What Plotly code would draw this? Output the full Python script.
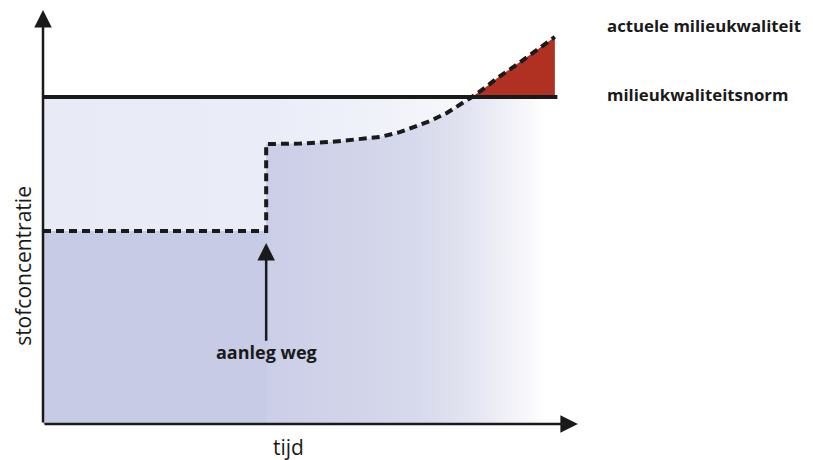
import plotly.graph_objects as go

# data (abstract units: time 0..10, concentration 0..~9.5)
time = [0.0, 4.36, 4.36, 5.02, 5.61, 6.19, 6.58, 6.97, 7.23, 7.56, 7.89, 8.20, 8.38, 8.63, 8.87, 9.22, 9.51, 10.0]
conc = [4.72, 4.72, 6.85, 6.86, 6.90, 6.96, 7.02, 7.14, 7.26, 7.41, 7.61, 7.85, 8.00, 8.22, 8.46, 8.76, 9.03, 9.47]
norm = 8.0
step_time = 4.36
norm_end = 10.05
x_axis_end = 10.45
y_axis_end = 10.13

dark = "#1a1a1a"
font_family = "Open Sans, Noto Sans, sans-serif"

fig = go.Figure()

# region below norm (light, fading to white)
fig.add_trace(go.Scatter(
    x=[0, 10], y=[norm, norm], mode="lines", line=dict(width=0),
    fill="tozeroy",
    fillgradient=dict(type="horizontal", colorscale=[
        [0.0, "#e8ebf6"], [0.44, "#eaedf8"], [0.66, "#f0f2f9"], [0.775, "#f5f6fb"],
        [0.83, "#f9f9fc"], [0.95, "#ffffff"], [1.0, "#ffffff"]]),
    hoverinfo="skip", showlegend=False))

# region under concentration curve
fig.add_trace(go.Scatter(
    x=time, y=conc, mode="lines", line=dict(width=0),
    fill="tozeroy",
    fillgradient=dict(type="horizontal", colorscale=[
        [0.0, "#c8cbe5"], [0.435, "#c8cbe5"], [0.44, "#cbcee7"], [0.6, "#d1d4e9"],
        [0.736, "#d7daec"], [0.834, "#e3e4f1"], [0.893, "#eeeef6"], [0.951, "#f8f8fb"],
        [0.98, "#ffffff"], [1.0, "#ffffff"]]),
    hoverinfo="skip", showlegend=False))

# exceedance region (red)
ex_x = [t for t, c in zip(time, conc) if c >= norm]
ex_y = [c for c in conc if c >= norm]
fig.add_trace(go.Scatter(
    x=ex_x + [ex_x[-1], ex_x[0]], y=ex_y + [norm, norm],
    mode="lines", line=dict(width=0), fill="toself", fillcolor="#b03022",
    hoverinfo="skip", showlegend=False))

# norm line
fig.add_trace(go.Scatter(
    x=[0, norm_end], y=[norm, norm], mode="lines",
    line=dict(color=dark, width=4), hoverinfo="skip", showlegend=False))

# dashed concentration line
fig.add_trace(go.Scatter(
    x=time, y=conc, mode="lines",
    line=dict(color=dark, width=4, dash="8px,5px"),
    hoverinfo="skip", showlegend=False))

annotations = [
    # x axis
    dict(x=x_axis_end, y=0, ax=0, ay=0, xref="x", yref="y", axref="x", ayref="y",
         showarrow=True, arrowhead=2, arrowsize=1.4, arrowwidth=2.5, arrowcolor=dark, text=""),
    # y axis
    dict(x=0, y=y_axis_end, ax=0, ay=0, xref="x", yref="y", axref="x", ayref="y",
         showarrow=True, arrowhead=2, arrowsize=1.4, arrowwidth=2.5, arrowcolor=dark, text=""),
    # event arrow
    dict(x=step_time, y=4.43, ax=step_time, ay=2.0, xref="x", yref="y", axref="x", ayref="y",
         showarrow=True, arrowhead=2, arrowsize=1.4, arrowwidth=2.5, arrowcolor=dark, text=""),
    dict(x=step_time, y=1.76, xref="x", yref="y", showarrow=False, text="<b>aanleg weg</b>",
         font=dict(size=18, color=dark, family=font_family)),
    dict(x=-0.39, y=3.87, xref="x", yref="y", showarrow=False, text="stofconcentratie", textangle=-90,
         font=dict(size=21, color=dark, family=font_family)),
    dict(x=4.8, y=-0.56, xref="x", yref="y", showarrow=False, text="tijd",
         font=dict(size=21, color=dark, family=font_family)),
    dict(x=10.98, y=9.76, xref="x", yref="y", showarrow=False, xanchor="left",
         text="<b>actuele milieukwaliteit</b>", font=dict(size=16.8, color=dark, family=font_family)),
    dict(x=10.98, y=8.05, xref="x", yref="y", showarrow=False, xanchor="left",
         text="<b>milieukwaliteitsnorm</b>", font=dict(size=16.8, color=dark, family=font_family)),
]

fig.update_layout(
    width=813, height=460,
    margin=dict(l=0, r=0, t=0, b=0),
    paper_bgcolor="white", plot_bgcolor="white",
    xaxis=dict(range=[-0.684, 15.2], visible=False, fixedrange=True),
    yaxis=dict(range=[-1.076, 10.177], visible=False, fixedrange=True),
    annotations=annotations,
    showlegend=False,
)

fig.write_html("out.html")
